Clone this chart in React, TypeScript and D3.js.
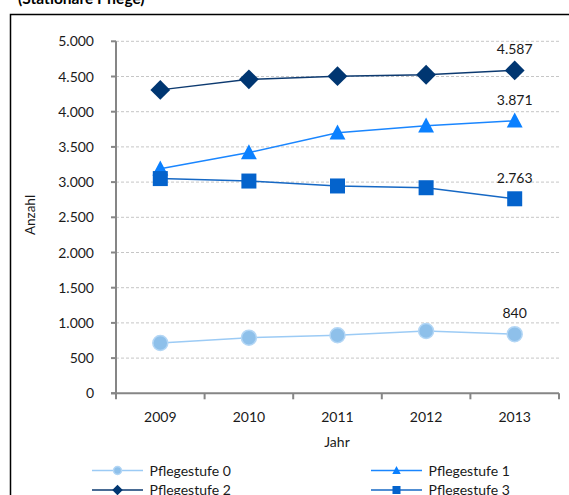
import React from "react";
import * as d3 from "d3";

const years = ["2009", "2010", "2011", "2012", "2013"];
const pf0 = [715, 790, 825, 885, 840];
const pf1 = [3190, 3420, 3700, 3800, 3871];
const pf2 = [4310, 4460, 4505, 4525, 4587];
const pf3 = [3050, 3015, 2945, 2920, 2763];
const yTicks = [0, 500, 1000, 1500, 2000, 2500, 3000, 3500, 4000, 4500, 5000];

const FONT = "Lato, 'Open Sans', sans-serif";

type Series = { name: string; values: number[]; line: string; fill: string; stroke: string; marker: string };

const series: Series[] = [
  { name: "Pflegestufe 0", values: pf0, line: "#9ccbf5", fill: "#8ec0ea", stroke: "#b3d6f5", marker: "circle" },
  { name: "Pflegestufe 1", values: pf1, line: "#1a86ff", fill: "#0a80ff", stroke: "#0a80ff", marker: "triangle" },
  { name: "Pflegestufe 2", values: pf2, line: "#0d3a70", fill: "#003671", stroke: "#003671", marker: "diamond" },
  { name: "Pflegestufe 3", values: pf3, line: "#1668c4", fill: "#0463cc", stroke: "#0463cc", marker: "square" },
];

const fmt = (v: number) => d3.format(",")(v).replace(/,/g, ".");

function Marker({ type, x, y, s, fill, stroke }: { type: string; x: number; y: number; s: number; fill: string; stroke: string }) {
  if (type === "circle") return <circle cx={x} cy={y} r={s * 0.5} fill={fill} stroke={stroke} strokeWidth={1.5} />;
  if (type === "square") return <rect x={x - s / 2} y={y - s / 2} width={s} height={s} fill={fill} />;
  if (type === "diamond") {
    const h = s * 0.66;
    return <path d={`M${x},${y - h}L${x + h},${y}L${x},${y + h}L${x - h},${y}Z`} fill={fill} />;
  }
  const h = s;
  return <path d={`M${x},${y - h * 0.55}L${x + h * 0.53},${y + h * 0.45}L${x - h * 0.53},${y + h * 0.45}Z`} fill={fill} />;
}

export default function App() {
  const W = 569, H = 495;
  const left = 116, right = 559, top = 41.3, bottom = 393.3;
  const x = d3.scaleBand().domain(years).range([left, right]);
  const y = d3.scaleLinear().domain([0, 5000]).range([bottom, top]);
  const cx = (yr: string) => (x(yr) as number) + x.bandwidth() / 2;
  const line = d3.line<number>().x((_, i) => cx(years[i])).y((v) => y(v));
  const axisColor = "#868686";
  const sizes: Record<string, number> = { circle: 15, triangle: 15, diamond: 15, square: 15 };
  const legendPos = [
    { lx: 92, ly: 470.5 },
    { lx: 371, ly: 470.5 },
    { lx: 92, ly: 490 },
    { lx: 371, ly: 490 },
  ];
  return (
    <svg width={W} height={H} style={{ position: "absolute", left: 0, top: 0, background: "#fff" }} fontFamily={FONT}>
      <rect x={0} y={0} width={W} height={H} fill="#fff" />
      <text x={18} y={3.5} fontSize={15.5} fontWeight="bold" fill="#000">(Stationäre Pflege)</text>
      <path d={`M10.5,${H}V14.5H${W}`} fill="none" stroke="#000" strokeWidth={1.5} />
      {yTicks.slice(1).map((t) => (
        <line key={t} x1={left} x2={right} y1={y(t)} y2={y(t)} stroke="#c6c6c6" strokeWidth={1} strokeDasharray="3,2" />
      ))}
      <line x1={left} x2={left} y1={top} y2={bottom + 5} stroke={axisColor} strokeWidth={2} />
      <line x1={left - 5} x2={right} y1={bottom} y2={bottom} stroke={axisColor} strokeWidth={2} />
      {yTicks.map((t) => (
        <g key={t}>
          <line x1={left - 5} x2={left} y1={y(t)} y2={y(t)} stroke={axisColor} strokeWidth={2} />
          <text x={94} y={y(t) + 5} fontSize={14} textAnchor="end" fill="#1a1a1a">{fmt(t)}</text>
        </g>
      ))}
      {years.map((yr, i) => (
        <line key={"t" + yr} x1={(x(yr) as number)} x2={(x(yr) as number)} y1={bottom} y2={bottom + 6} stroke={axisColor} strokeWidth={2} />
      ))}
      <line x1={right} x2={right} y1={bottom} y2={bottom + 6} stroke={axisColor} strokeWidth={2} />
      {years.map((yr) => (
        <text key={"l" + yr} x={cx(yr)} y={421.5} fontSize={14} textAnchor="middle" fill="#1a1a1a">{yr}</text>
      ))}
      <text x={337} y={446.5} fontSize={14} textAnchor="middle" fill="#1a1a1a">Jahr</text>
      <text transform="translate(35,215) rotate(-90)" fontSize={13.5} textAnchor="middle" fill="#1a1a1a">Anzahl</text>
      {series.map((s) => (
        <g key={s.name}>
          <path d={line(s.values) as string} fill="none" stroke={s.line} strokeWidth={1.5} />
          {s.values.map((v, i) => (
            <Marker key={i} type={s.marker} x={cx(years[i])} y={y(v)} s={sizes[s.marker]} fill={s.fill} stroke={s.stroke} />
          ))}
          <text x={cx(years[4])} y={y(s.values[4]) - 16} fontSize={14} textAnchor="middle" fill="#1a1a1a">{fmt(s.values[4])}</text>
        </g>
      ))}
      {series.map((s, i) => {
        const p = legendPos[i];
        return (
          <g key={"lg" + s.name}>
            <line x1={p.lx} x2={p.lx + 51} y1={p.ly} y2={p.ly} stroke={s.line} strokeWidth={1.5} />
            <Marker type={s.marker} x={p.lx + 25.5} y={p.ly} s={8} fill={s.fill} stroke={s.stroke} />
            <text x={p.lx + 57.5} y={p.ly + 5} fontSize={14} fill="#1a1a1a">{s.name}</text>
          </g>
        );
      })}
    </svg>
  );
}
